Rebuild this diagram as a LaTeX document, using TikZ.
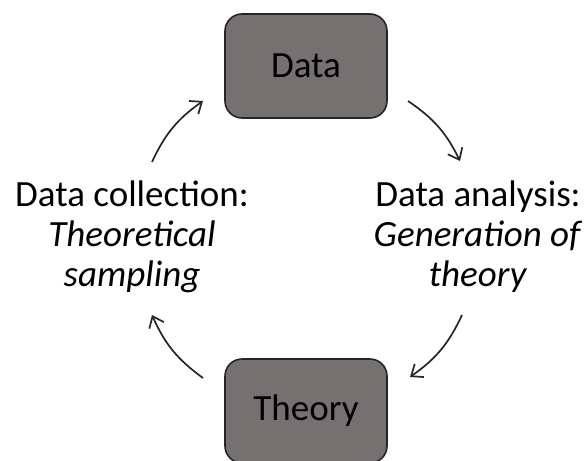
\documentclass[tikz,border=0pt]{standalone}
\usepackage{fontspec}
\setmainfont{Carlito}
\usepackage{xcolor}
\usetikzlibrary{arrows.meta}
\definecolor{BoxGray}{HTML}{767171}
\definecolor{EdgeGray}{HTML}{262626}

\begin{document}
\begin{tikzpicture}[x=1pt,y=-1pt]
\tikzstyle{stage}=[draw=EdgeGray,line width=1.6pt,rectangle,rounded corners=17,fill=BoxGray,minimum width=162pt,minimum height=104pt,inner sep=0pt,font=\fontsize{37}{40}\selectfont]
\tikzstyle{step label}=[align=center,inner sep=0pt,font=\fontsize{37}{40}\selectfont]
\tikzstyle{cycle}=[draw=EdgeGray,line width=1.7pt,-{Straight Barb[length=10pt,width=16pt]}]
\useasboundingbox (0,0) rectangle (588,460);
\node[stage] (data) at (306,66) {Data};
\node[stage] (theory) at (306,411) {Theory};
\node[step label] (label_collection) at (132,237) {Data collection:\\\textit{Theoretical}\\\textit{sampling}};
\node[step label] (label_analysis) at (478,237) {Data analysis:\\\textit{Generation of}\\\textit{theory}};
% arrow ends
\coordinate (collection_out) at (152,162);
\coordinate (data_in) at (203,101);
\coordinate (data_out) at (408,101);
\coordinate (analysis_in) at (460,161);
\coordinate (analysis_out) at (462,315);
\coordinate (theory_in) at (410,377);
\coordinate (theory_out) at (203,378);
\coordinate (collection_in) at (152,315);
\path[cycle] (collection_out) to[bend left=15] (data_in);
\path[cycle] (data_out) to[bend left=15] (analysis_in);
\path[cycle] (analysis_out) to[bend left=15] (theory_in);
\path[cycle] (theory_out) to[bend left=15] (collection_in);
\end{tikzpicture}
\end{document}
